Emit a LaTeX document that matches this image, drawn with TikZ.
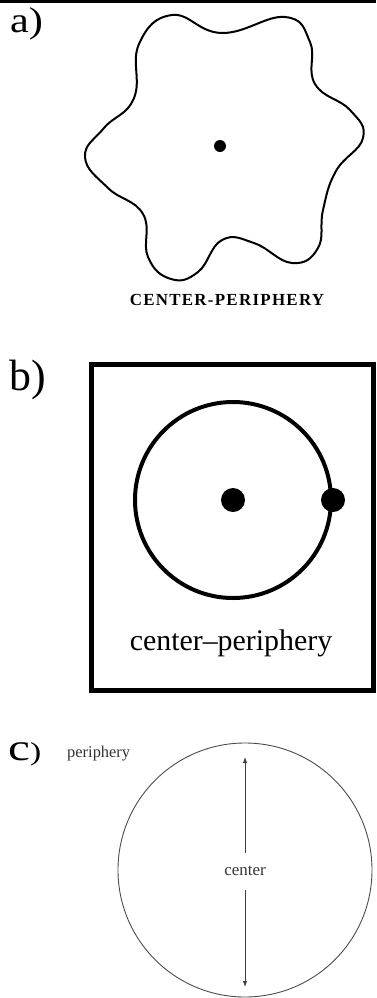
\documentclass[tikz,border=0pt]{standalone}
\usepackage{fontspec}
\usepackage{graphicx}
\setmainfont{Liberation Serif}
\usetikzlibrary{arrows.meta}
\begin{document}
\begin{tikzpicture}[x=1bp,y=-1bp,
  lbl/.style={inner sep=0pt, anchor=base west},
  dotnode/.style={circle, fill=black, inner sep=0pt, minimum size=#1},
  arr/.style={draw=black!75, line width=0.8bp, -{Latex[length=6bp,width=4.5bp]}}]
\useasboundingbox (0,0) rectangle (376,998);
\fill[black] (0,0) rectangle (376,3);
% ---------- a)
\node[lbl, font=\fontsize{36}{36}\selectfont] (la) at (10,32) {\scalebox{1.18}[1]{a)}};
\draw[line width=2bp, black] plot[smooth cycle, tension=0.75] coordinates {
 (172,15) (222,33) (285,17) (310,42) (315,84) (350,110) (363,138)
 (336,171) (323,210) (318,248) (292,263) (254,243) (222,240)
 (198,272) (171,279) (148,257) (143,214) (108,188) (85,157)
 (104,128) (134,98) (139,44)};
\node[dotnode=12bp] (adot) at (220,146) {};
\node[anchor=base, inner sep=0pt, font=\fontsize{17}{17}\selectfont\bfseries\addfontfeatures{LetterSpace=7.5}] (ta) at (227,305) {CENTER-PERIPHERY};
% ---------- b)
\node[lbl, font=\fontsize{44}{44}\selectfont] (lb) at (9,390) {b)};
\node[draw, line width=5bp, inner sep=0pt, minimum width=282bp, minimum height=325.5bp] (bbox) at (232.5,527.25) {};
\node[circle, draw, line width=4bp, inner sep=0pt, minimum size=196bp] (bcirc) at (233,500) {};
\node[dotnode=24bp] (bdot) at (bcirc.center) {};
\node[dotnode=24bp] (pdot) at (bcirc.east) {};
\node[anchor=base, inner sep=0pt, font=\fontsize{30}{30}\selectfont] (tb) at (231,650) {center–periphery};
% ---------- c)
\node[lbl, font=\fontsize{38}{38}\selectfont] (lc) at (8,760) {\scalebox{1.3}[1]{c\fontsize{26}{26}\selectfont)}};
\node[lbl, font=\fontsize{16.5}{16.5}\selectfont, text=black!80] (pc) at (67,757) {periphery};
\node[circle, draw=black!70, line width=0.9bp, inner sep=0pt, minimum size=254bp] (cc) at (245,870) {};
\node[inner sep=0pt, font=\fontsize{17}{17}\selectfont, text=black!80] (ct) at (245,871) {center};
\coordinate (cup) at (245,757);
\coordinate (cdn) at (245,987);
\draw[arr] ([yshift=13bp]ct.north) -- (cup);
\draw[arr] ([yshift=-14bp]ct.south) -- (cdn);
\end{tikzpicture}
\end{document}
